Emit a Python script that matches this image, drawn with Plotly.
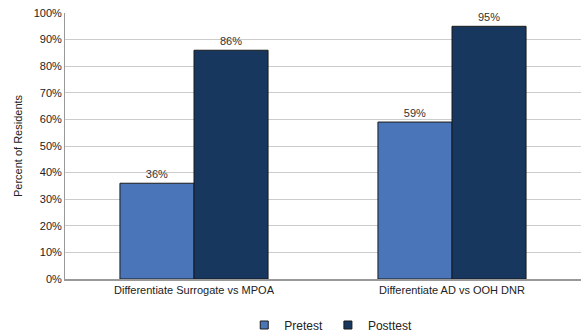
import plotly.graph_objects as go

categories = ["Differentiate Surrogate vs MPOA", "Differentiate AD vs OOH DNR"]
series_names = ["Pretest", "Posttest"]
pretest = [36, 59]
posttest = [86, 95]
tick_vals = [0, 10, 20, 30, 40, 50, 60, 70, 80, 90, 100]
tick_text = [f"{v}%" for v in tick_vals]

colors = ["#4a76b9", "#17375f"]
font = dict(family="Liberation Sans, Arial, sans-serif", size=11, color="#222")

fig = go.Figure()
for name, vals, col in zip(series_names, [pretest, posttest], colors):
    fig.add_trace(go.Bar(
        name=name, x=categories, y=vals, showlegend=False,
        marker=dict(color=col, line=dict(color="#1a1a1a", width=1)),
        text=[f"{v}%" for v in vals], textposition="outside",
        textfont=dict(size=11, color="#333"), cliponaxis=False,
    ))
for name, col in zip(series_names, colors):
    fig.add_trace(go.Scatter(
        name=name, x=[None], y=[None], mode="markers",
        marker=dict(symbol="square", size=8, color=col, line=dict(color="#1a1a1a", width=1)),
        showlegend=True,
    ))

fig.update_layout(
    width=582, height=333,
    margin=dict(l=65, r=1, t=13, b=54),
    paper_bgcolor="white", plot_bgcolor="white",
    font=font,
    barmode="group", bargap=0.426, bargroupgap=0,
    showlegend=True,
    legend=dict(orientation="h", x=0.515, xanchor="center", yref="container", y=0.024, yanchor="middle",
                font=dict(size=12), itemwidth=30, traceorder="normal", tracegroupgap=0),
    xaxis=dict(showline=True, linecolor="#999", linewidth=1.5, ticks="", automargin=False,
               tickfont=dict(size=11)),
    yaxis=dict(range=[0, 100], tickvals=tick_vals, ticktext=tick_text, automargin=False,
               showgrid=True, gridcolor="#cccccc", gridwidth=1,
               showline=True, linecolor="#999", linewidth=1, ticks="",
               title=dict(text="Percent of Residents", font=dict(size=11), standoff=8),
               tickfont=dict(size=11), zeroline=False),
)

fig.write_html(
    "out.html",
    config={"displayModeBar": False},
    post_script="document.body.style.margin='0';document.body.style.overflow='hidden';",
)
